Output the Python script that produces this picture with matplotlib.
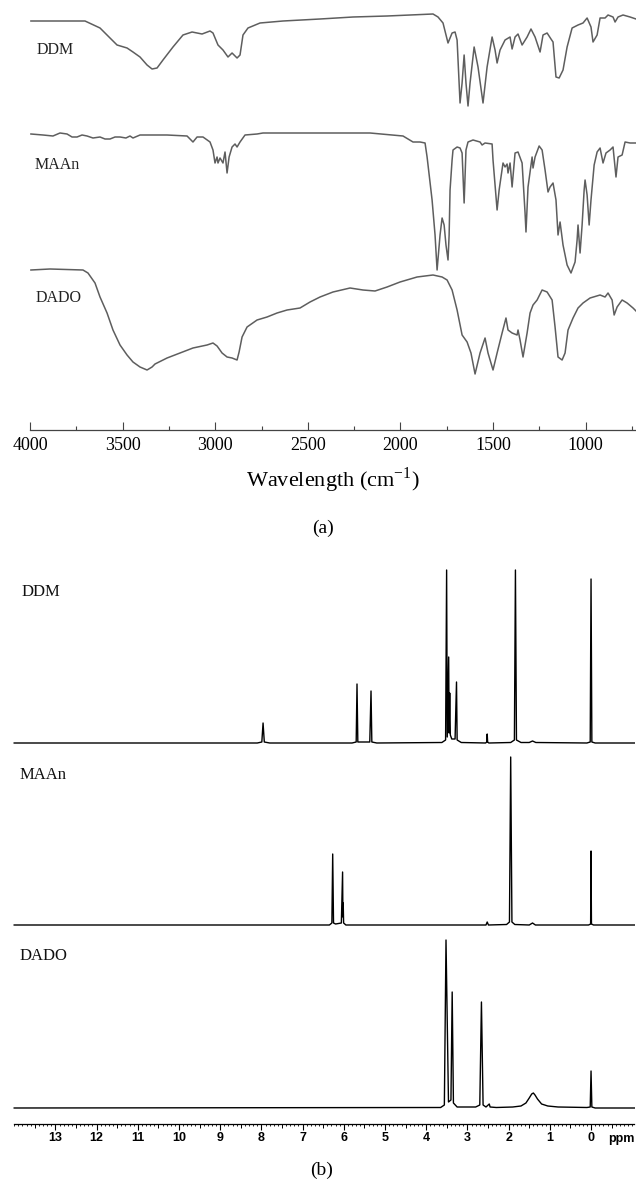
import numpy as np
import matplotlib
matplotlib.use("Agg")
import matplotlib.pyplot as plt
from matplotlib.ticker import MultipleLocator, FixedLocator, FormatStrFormatter

# ---------------- FTIR spectra: (wavenumber cm-1, transmittance a.u.) ----------------
ddm_ir = [
    (3995, 99), (3703, 99), (3622, 92), (3568, 82), (3530, 75), (3476, 72), (3444, 68),
    (3406, 63), (3368, 55), (3341, 51), (3314, 52), (3282, 60), (3228, 73), (3174, 85),
    (3125, 88), (3098, 87), (3071, 86), (3028, 89), (3012, 87), (2985, 75), (2958, 70),
    (2931, 63), (2909, 67), (2882, 62), (2866, 65), (2850, 85), (2823, 92), (2758, 97),
    (2634, 99), (2434, 101), (2256, 103), (2072, 104), (1824, 106), (1797, 103),
    (1770, 97), (1743, 77), (1721, 87), (1705, 88), (1694, 80), (1678, 17), (1667, 37),
    (1656, 65), (1646, 37), (1635, 14), (1624, 37), (1602, 73), (1581, 53), (1554, 17),
    (1532, 53), (1505, 83), (1489, 70), (1478, 57), (1462, 70), (1435, 80), (1408, 83),
    (1397, 71), (1381, 83), (1365, 86), (1343, 75), (1316, 83), (1295, 91), (1273, 83),
    (1246, 68), (1230, 85), (1208, 87), (1187, 81), (1176, 78), (1160, 43), (1143, 42),
    (1122, 50), (1100, 73), (1073, 92), (1041, 95), (1014, 97), (992, 102), (971, 93),
    (960, 78), (938, 85), (922, 102), (895, 102), (879, 105), (852, 103), (841, 98),
    (825, 103), (798, 105), (760, 103), (728, 101),
]

maan_ir = [
    (3995, 100), (3930, 99), (3876, 98), (3838, 101), (3800, 100), (3773, 97), (3746, 97),
    (3719, 99), (3692, 98), (3660, 96), (3622, 97), (3595, 95), (3568, 95), (3541, 97),
    (3514, 97), (3482, 96), (3460, 98), (3444, 96), (3406, 99), (3260, 99), (3152, 98),
    (3120, 92), (3098, 97), (3066, 97), (3028, 92), (3012, 84), (3001, 71), (2990, 77),
    (2985, 71), (2974, 76), (2958, 71), (2947, 82), (2936, 61), (2925, 77), (2909, 87),
    (2893, 90), (2882, 87), (2866, 92), (2839, 99), (2774, 100), (2742, 101), (2434, 101),
    (2164, 101), (1986, 98), (1932, 92), (1894, 92), (1867, 91), (1856, 77), (1829, 34),
    (1813, -1), (1802, -36), (1786, -1), (1775, 16), (1764, 9), (1754, -11), (1743, -26),
    (1737, -1), (1732, 44), (1721, 74), (1716, 84), (1694, 87), (1678, 86), (1667, 81),
    (1656, 31), (1646, 84), (1635, 92), (1608, 94), (1570, 92), (1559, 89), (1543, 91),
    (1505, 90), (1500, 74), (1478, 24), (1467, 44), (1446, 71), (1435, 67), (1424, 70),
    (1419, 61), (1408, 71), (1397, 47), (1381, 81), (1365, 82), (1343, 71), (1327, 21),
    (1322, 2), (1311, 47), (1289, 77), (1284, 66), (1273, 77), (1251, 88), (1235, 84),
    (1219, 64), (1203, 42), (1192, 47), (1176, 51), (1160, 34), (1149, -1), (1138, 12),
    (1122, -11), (1100, -31), (1079, -39), (1057, -28), (1046, -6), (1041, 9), (1030, -19),
    (1019, 9), (1008, 44), (1003, 54), (992, 39), (981, 9), (971, 34), (954, 69),
    (938, 82), (922, 86), (906, 71), (890, 81), (868, 84), (852, 87), (836, 57),
    (825, 77), (803, 79), (787, 92), (760, 91), (728, 91),
]

dado_ir = [
    (3995, 100), (3892, 101), (3714, 100), (3687, 97), (3649, 87), (3622, 73), (3584, 57),
    (3552, 40), (3514, 25), (3476, 15), (3444, 8), (3406, 3), (3368, 0), (3341, 3),
    (3325, 6), (3260, 12), (3190, 17), (3120, 22), (3044, 25), (3012, 27), (2990, 24),
    (2963, 17), (2936, 13), (2909, 12), (2882, 10), (2871, 18), (2855, 33), (2828, 43),
    (2774, 50), (2720, 53), (2666, 57), (2612, 60), (2542, 62), (2488, 68), (2434, 73),
    (2364, 78), (2272, 82), (2202, 80), (2137, 79), (2072, 83), (2002, 88), (1910, 93),
    (1824, 95), (1775, 93), (1748, 90), (1721, 80), (1694, 60), (1667, 35), (1640, 28),
    (1619, 17), (1597, -4), (1570, 17), (1543, 32), (1527, 17), (1500, 0), (1478, 17),
    (1451, 37), (1430, 52), (1419, 40), (1397, 37), (1370, 35), (1365, 40), (1354, 30),
    (1338, 13), (1316, 37), (1300, 57), (1284, 65), (1262, 70), (1235, 80), (1208, 78),
    (1181, 70), (1165, 43), (1149, 13), (1127, 10), (1111, 17), (1095, 40), (1068, 52),
    (1041, 62), (1014, 67), (976, 72), (922, 75), (895, 73), (879, 77), (857, 70),
    (846, 55), (830, 63), (803, 70), (776, 67), (744, 62), (728, 59),
]

ir_names = ["DDM", "MAAn", "DADO"]
ir_ticks = [4000, 3500, 3000, 2500, 2000, 1500, 1000]

# ---------------- 1H NMR spectra: (chemical shift ppm, intensity a.u.) ----------------
ddm_nmr = [
    (14.0, 0), (8.10, 0), (7.99, 1), (7.96, 20), (7.93, 1), (7.80, 0),
    (5.80, 0), (5.70, 1), (5.68, 59), (5.66, 1), (5.37, 1), (5.34, 52), (5.32, 1),
    (5.20, 0), (3.62, 0.5), (3.53, 3), (3.505, 173), (3.49, 6), (3.455, 86),
    (3.445, 10), (3.43, 50), (3.415, 8), (3.38, 4), (3.30, 4), (3.265, 61), (3.25, 3),
    (3.15, 0.5), (2.56, 0), (2.53, 1), (2.52, 9), (2.51, 1), (2.48, 0), (1.95, 0.5),
    (1.86, 3), (1.835, 173), (1.81, 3), (1.70, 0.5), (1.50, 0.5), (1.42, 2), (1.34, 0.5),
    (0.10, 0), (0.02, 1), (0.00, 164), (-0.02, 1), (-0.10, 0), (-1.05, 0),
]

maan_nmr = [
    (14.0, 0), (6.35, 0), (6.29, 2), (6.27, 71), (6.25, 2), (6.20, 1), (6.06, 2),
    (6.03, 53), (6.022, 8), (6.015, 22), (6.005, 2), (5.95, 0), (2.55, 0), (2.52, 3),
    (2.49, 0), (2.05, 0.5), (1.98, 3), (1.95, 168), (1.92, 3), (1.85, 0.5), (1.50, 0),
    (1.42, 2), (1.35, 0), (0.06, 0), (0.01, 1), (0.00, 74), (-0.01, 1), (-0.06, 0),
    (-1.05, 0),
]

dado_nmr = [
    (14.0, 0), (3.65, 0.5), (3.56, 3), (3.52, 168), (3.46, 6), (3.40, 8), (3.37, 116),
    (3.34, 5), (3.25, 1), (2.80, 1), (2.70, 3), (2.66, 106), (2.62, 3), (2.55, 1),
    (2.47, 4), (2.45, 1), (2.30, 0.5), (1.90, 1), (1.70, 2), (1.58, 5), (1.50, 10),
    (1.44, 14), (1.40, 15), (1.36, 13), (1.30, 9), (1.20, 4), (1.05, 2), (0.80, 1),
    (0.10, 0.5), (0.02, 1), (0.00, 37), (-0.02, 1), (-0.10, 0), (-1.05, 0),
]

nmr_names = ["DDM", "MAAn", "DADO"]
nmr_ticks = list(range(0, 14))

# ---------------- figure ----------------
W, H = 636, 1191
fig = plt.figure(figsize=(W / 100, H / 100), dpi=100)
SERIF = ["Liberation Serif", "DejaVu Serif"]
SANS = ["Liberation Sans", "DejaVu Sans"]


def axes_px(left, top, right, bottom):
    return fig.add_axes([left / W, 1 - bottom / H, (right - left) / W, (bottom - top) / H])


def text_px(x, y, s, **kw):
    fig.text(x / W, 1 - y / H, s, **kw)


# ---- (a) FTIR ----
ax1 = axes_px(30, 0, 636, 430)
ax1.set_xlim(4000, 728)
ax1.set_ylim(0, 430)
ir_offsets = [310, 196, 60]
for spec, off in zip([ddm_ir, maan_ir, dado_ir], ir_offsets):
    wn, tr = np.array(spec, dtype=float).T
    ax1.plot(wn, tr + off, color="#5e5e5e", lw=1.1, solid_joinstyle="round")

for side in ("top", "left", "right"):
    ax1.spines[side].set_visible(False)
ax1.spines["bottom"].set_color("#444444")
ax1.spines["bottom"].set_linewidth(0.9)
ax1.set_yticks([])
ax1.xaxis.set_major_locator(FixedLocator(ir_ticks))
ax1.xaxis.set_minor_locator(MultipleLocator(250))
ax1.tick_params(axis="x", which="major", direction="in", length=5.8, width=0.8,
                color="#444444", labelsize=13, pad=5)
ax1.tick_params(axis="x", which="minor", direction="in", length=2.9, width=0.8,
                color="#444444")
for lab in ax1.get_xticklabels():
    lab.set_family(SERIF)
ax1.set_xlabel("Wavelength (cm$^{\\mathregular{-1}}$)", family=SERIF, fontsize=16, labelpad=8)

for name, (x, y) in zip(ir_names, [(37, 50), (35, 165), (36, 298)]):
    text_px(x, y, name, family=SERIF, fontsize=11.5, va="center", ha="left", color="#222222")

text_px(323, 528, "(a)", family=SERIF, fontsize=14, ha="center", va="center")

# ---- (b) 1H NMR ----
ax2 = axes_px(14.2, 560, 634.3, 1124)
ax2.set_xlim(14.0, -1.05)
ax2.set_ylim(0, 564)
nmr_offsets = [381, 199, 16]
for spec, off in zip([ddm_nmr, maan_nmr, dado_nmr], nmr_offsets):
    ppm, inten = np.array(spec, dtype=float).T
    ax2.plot(ppm, inten + off, color="black", lw=1.0, clip_on=False)

for side in ("top", "left", "right"):
    ax2.spines[side].set_visible(False)
ax2.spines["bottom"].set_linewidth(0.9)
ax2.set_yticks([])
ax2.xaxis.set_major_locator(FixedLocator(nmr_ticks))
ax2.xaxis.set_major_formatter(FormatStrFormatter("%d"))
ax2.xaxis.set_minor_locator(MultipleLocator(0.1))
ax2.tick_params(axis="x", which="major", direction="out", length=4.0, width=0.8,
                labelsize=9, pad=2)
ax2.tick_params(axis="x", which="minor", direction="out", length=1.7, width=0.6)
for lab in ax2.get_xticklabels():
    lab.set_family(SANS)
    lab.set_fontweight("bold")

# half-ppm ticks of intermediate length
sec = ax2.secondary_xaxis("bottom")
sec.set_xticks([v + 0.5 for v in range(-1, 14)])
sec.tick_params(axis="x", direction="out", length=2.6, width=0.7, labelbottom=False)
sec.spines["bottom"].set_visible(False)

ax2.annotate("ppm", xy=(1.0, 0), xycoords="axes fraction",
             xytext=(0, -11.0), textcoords="offset points", ha="right", va="center",
             family=SANS, fontweight="bold", fontsize=9)

for name, (x, y) in zip(nmr_names, [(22, 592), (20, 775), (20, 956)]):
    text_px(x, y, name, family=SERIF, fontsize=12, va="center", ha="left", color="#111111")

text_px(322, 1170, "(b)", family=SERIF, fontsize=14, ha="center", va="center")

fig.savefig("out.png", dpi=100, facecolor="white")
